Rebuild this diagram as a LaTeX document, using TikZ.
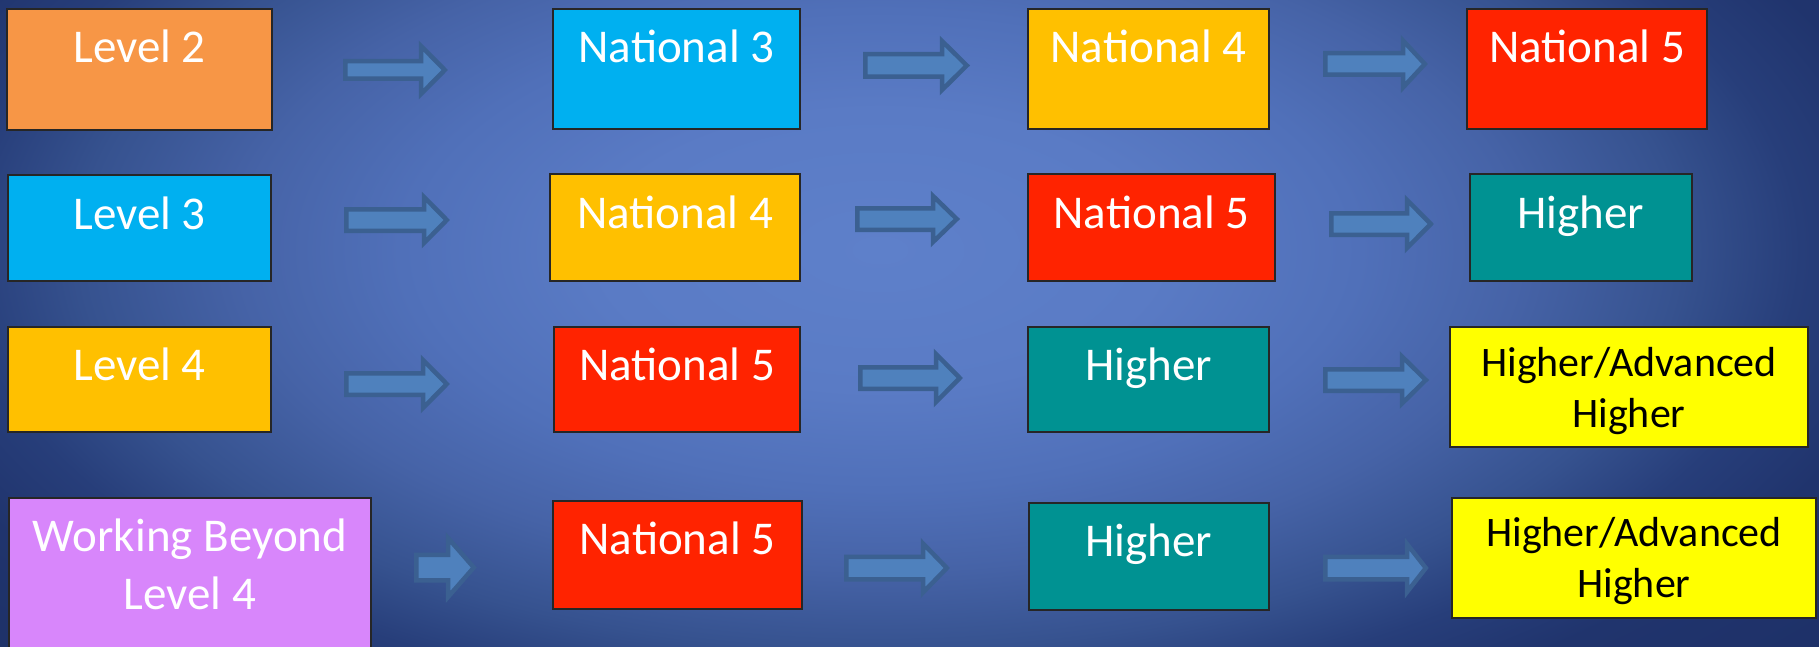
\documentclass[tikz,border=0pt]{standalone}
\usepackage{fontspec}
\setmainfont{Carlito}
\usetikzlibrary{fit}
\definecolor{bgA}{HTML}{5E80CA}
\definecolor{bgB}{HTML}{5A7BC5}
\definecolor{bgC}{HTML}{5070B9}
\definecolor{bgD}{HTML}{4663A7}
\definecolor{bgE}{HTML}{36528F}
\definecolor{bgF}{HTML}{273E7A}
\definecolor{bgG}{HTML}{20346D}
\definecolor{bgH}{HTML}{1C2E64}
\definecolor{corange}{HTML}{F79646}
\definecolor{ccyan}{HTML}{00B0F0}
\definecolor{camber}{HTML}{FFC000}
\definecolor{cred}{HTML}{FF2300}
\definecolor{cteal}{HTML}{009292}
\definecolor{cyellow}{HTML}{FFFF00}
\definecolor{cviolet}{HTML}{D886FB}
\definecolor{arrfill}{HTML}{4F81BD}
\definecolor{arrline}{HTML}{3B6091}
\pgfdeclareradialshading{bgshade}{\pgfpoint{0bp}{0bp}}{color(0bp)=(bgA); color(7bp)=(bgB); color(12bp)=(bgC); color(16bp)=(bgD); color(20bp)=(bgE); color(23bp)=(bgF); color(26bp)=(bgG); color(35bp)=(bgH)}
\tikzset{
  box/.style={draw=black!85, line width=1.3pt, inner sep=0pt, rectangle},
  wt/.style={text=white, font=\fontsize{47}{58}\selectfont, inner sep=0pt, align=center, anchor=base},
  bt/.style={text=black, font=\fontsize{42}{51}\selectfont, inner sep=0pt, align=center, anchor=base},
  blockarrow/.style={fill=arrfill, draw=arrline, line width=4.5pt, line join=miter}
}
% #1 left x, #2 tip x, #3 head base x, #4 centre y, #5 shaft half, #6 head half
\newcommand\blockarr[6]{%
  \draw[blockarrow] ({#1+2.25},{#4-#5+2.25}) -- ({#3},{#4-#5+2.25}) -- ({#3},{#4-#6+3}) -- ({#2-3.2},{#4}) -- ({#3},{#4+#6-3}) -- ({#3},{#4+#5-2.25}) -- ({#1+2.25},{#4+#5-2.25}) -- cycle;}
\begin{document}
\begin{tikzpicture}[x=1pt,y=-1pt]
\useasboundingbox (0,0) rectangle (1819,647);
\begin{scope}
\clip (0,0) rectangle (1819,647);
\shade[shading=bgshade] (-120,-250) rectangle (1880,750);
\end{scope}

% Row 1
\node[box, fill=corange, fit={(7,9) (272,130)}] (L2) {};
\node[box, fill=ccyan, fit={(553,9) (800,129)}] (N3a) {};
\node[box, fill=camber, fit={(1028,9) (1269,129)}] (N4a) {};
\node[box, fill=cred, fit={(1467,9) (1707,129)}] (N5a) {};
% Row 2
\node[box, fill=ccyan, fit={(8,175) (271,281)}] (L3) {};
\node[box, fill=camber, fit={(550,174) (800,281)}] (N4b) {};
\node[box, fill=cred, fit={(1028,174) (1275,281)}] (N5b) {};
\node[box, fill=cteal, fit={(1470,174) (1692,281)}] (Hb) {};
% Row 3
\node[box, fill=camber, fit={(8,327) (271,432)}] (L4) {};
\node[box, fill=cred, fit={(554,327) (800,432)}] (N5c) {};
\node[box, fill=cteal, fit={(1028,327) (1269,432)}] (Hc) {};
\node[box, fill=cyellow, fit={(1450,327) (1808,447)}] (HAc) {};
% Row 4
\node[box, fill=cviolet, fit={(9,498) (371,662)}] (WB) {};
\node[box, fill=cred, fit={(553,501) (802,609)}] (N5d) {};
\node[box, fill=cteal, fit={(1029,503) (1269,610)}] (Hd) {};
\node[box, fill=cyellow, fit={(1452,498) (1816,618)}] (HAd) {};

% Labels (anchor base = baseline of the last line)
\node[wt] (tL2) at ([yshift=-54pt]L2.north) {Level 2};
\node[wt] (tN3a) at ([yshift=-54pt]N3a.north) {National 3};
\node[wt] (tN4a) at ([yshift=-54pt]N4a.north) {National 4};
\node[wt] (tN5a) at ([yshift=-54pt]N5a.north) {National 5};
\node[wt] (tL3) at ([yshift=-55pt]L3.north) {Level 3};
\node[wt] (tN4b) at ([yshift=-55pt]N4b.north) {National 4};
\node[wt] (tN5b) at ([yshift=-55pt]N5b.north) {National 5};
\node[wt] (tHb) at ([yshift=-55pt]Hb.north) {Higher};
\node[wt] (tL4) at ([yshift=-54pt]L4.north) {Level 4};
\node[wt] (tN5c) at ([yshift=-54pt]N5c.north) {National 5};
\node[wt] (tHc) at ([yshift=-54pt]Hc.north) {Higher};
\node[bt] (tHAc) at ([yshift=-101pt]HAc.north) {Higher/Advanced\\Higher};
\node[wt] (tWB) at ([yshift=-112pt]WB.north) {Working Beyond\\Level 4};
\node[wt] (tN5d) at ([yshift=-54pt]N5d.north) {National 5};
\node[wt] (tHd) at ([yshift=-54pt]Hd.north) {Higher};
\node[bt] (tHAd) at ([yshift=-100pt]HAd.north) {Higher/Advanced\\Higher};

% Block arrows
\blockarr{343}{448}{421}{70}{11}{27}
\blockarr{863}{970}{942}{65.5}{13.5}{27.5}
\blockarr{1323}{1428}{1403}{64}{13}{26.5}
\blockarr{344}{450}{424}{220}{13}{26}
\blockarr{855}{960}{933}{219}{13}{26}
\blockarr{1329}{1434}{1407}{224}{13}{27}
\blockarr{344}{450}{423}{384}{13}{27}
\blockarr{858}{963}{936}{378}{13}{27}
\blockarr{1323}{1429}{1402}{380}{13}{26.5}
\blockarr{414}{477}{448}{567.5}{15}{32.5}
\blockarr{844}{950}{923}{568}{13.5}{27.5}
\blockarr{1323}{1429}{1407}{568}{13.5}{27}
\end{tikzpicture}
\end{document}
